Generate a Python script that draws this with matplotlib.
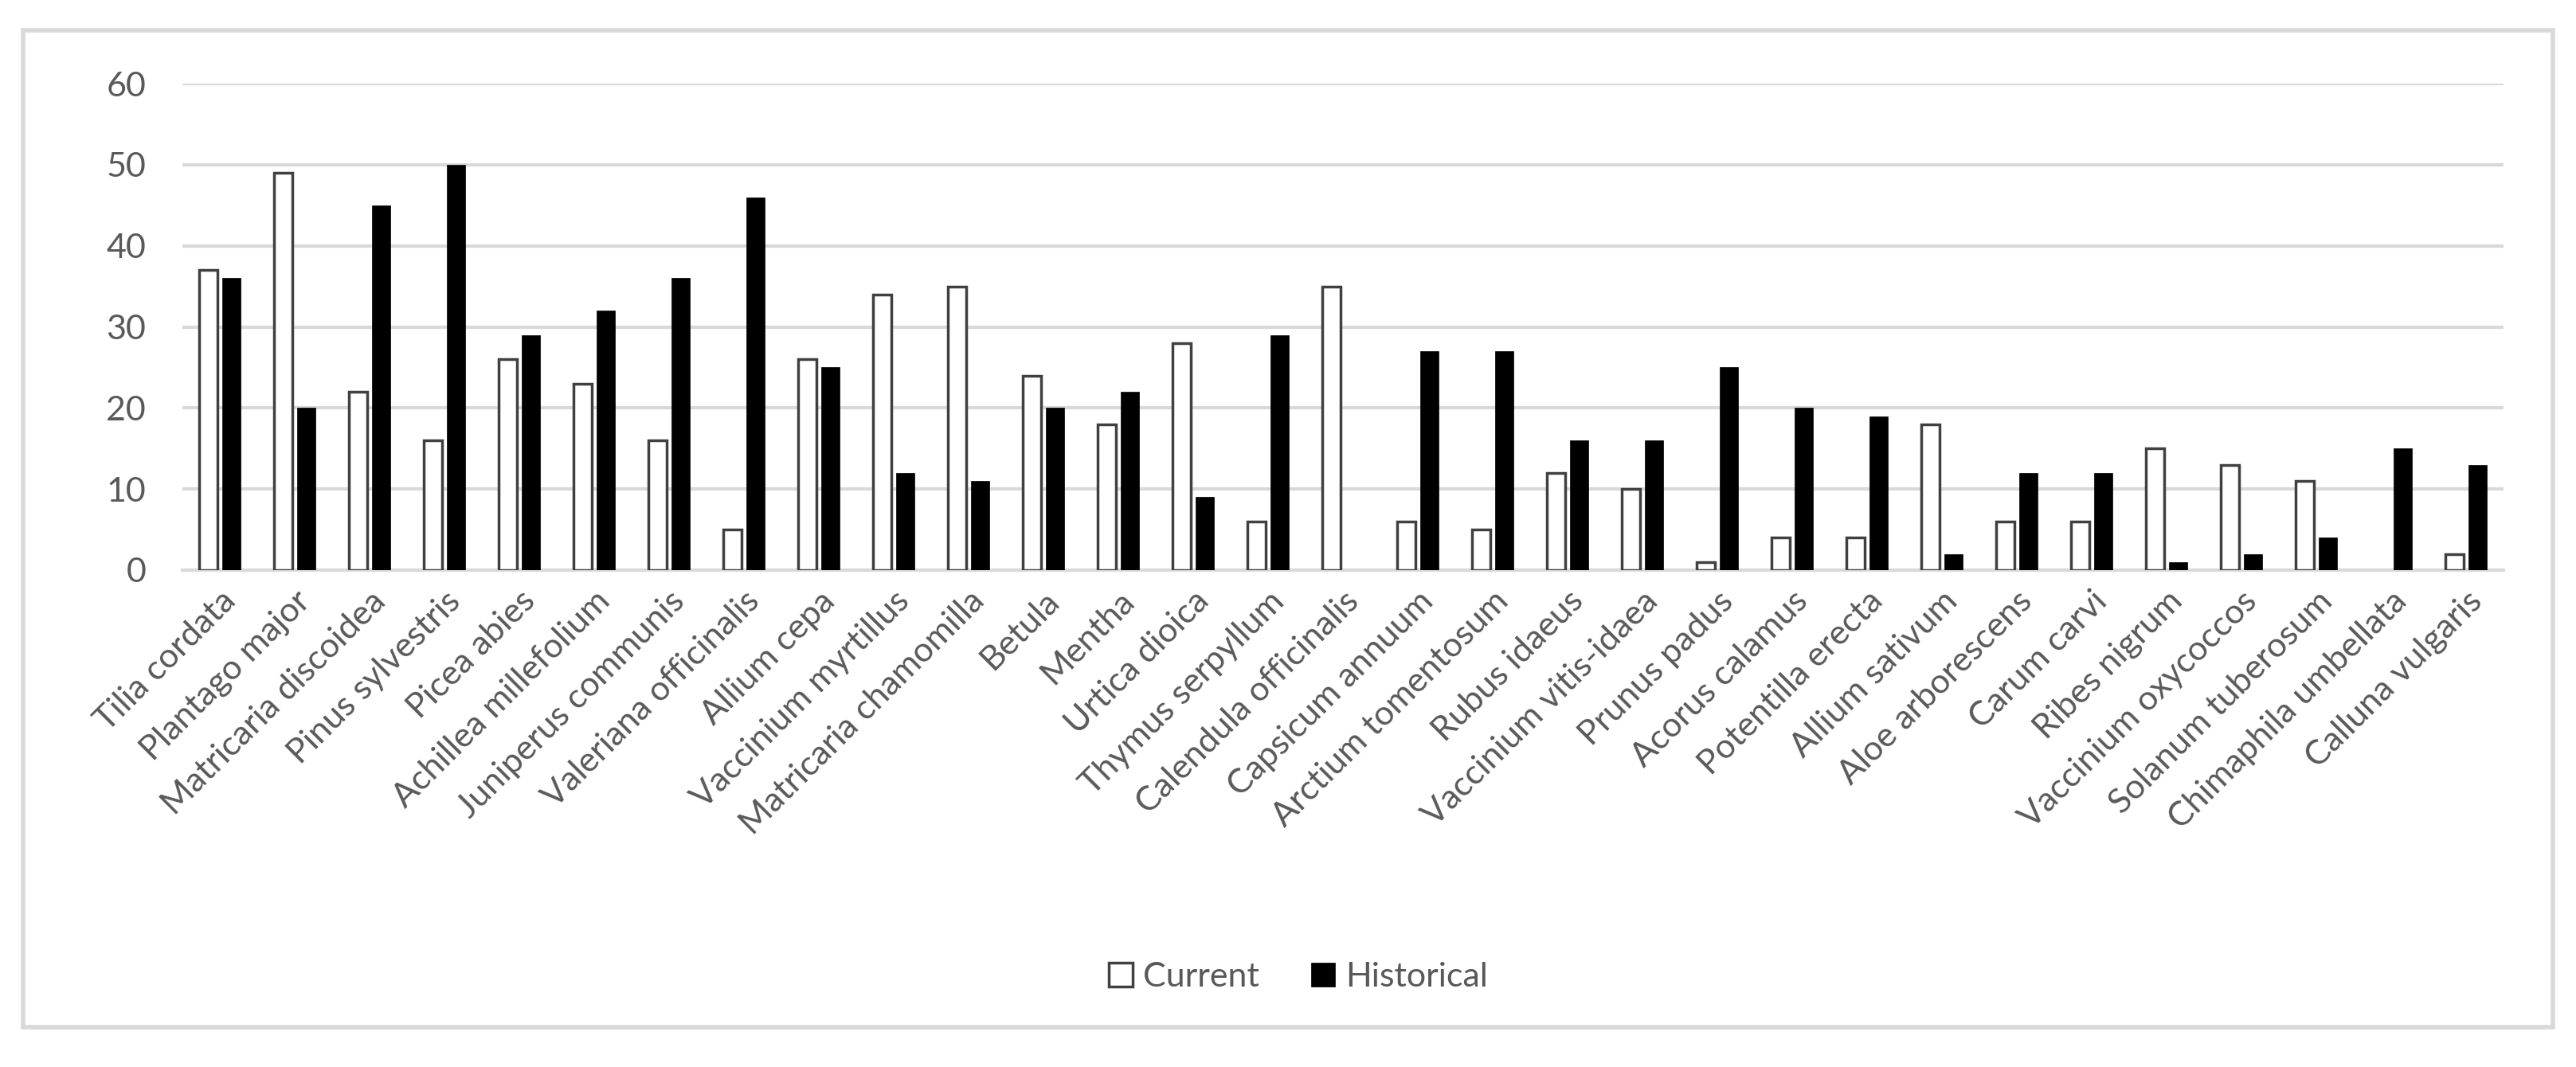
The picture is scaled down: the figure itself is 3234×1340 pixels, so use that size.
import matplotlib.pyplot as plt
import numpy as np
from matplotlib.patches import Rectangle

species = ["Tilia cordata", "Plantago major", "Matricaria discoidea", "Pinus sylvestris",
           "Picea abies", "Achillea millefolium", "Juniperus communis", "Valeriana officinalis",
           "Allium cepa", "Vaccinium myrtillus", "Matricaria chamomilla", "Betula", "Mentha",
           "Urtica dioica", "Thymus serpyllum", "Calendula officinalis", "Capsicum annuum",
           "Arctium tomentosum", "Rubus idaeus", "Vaccinium vitis-idaea", "Prunus padus",
           "Acorus calamus", "Potentilla erecta", "Allium sativum", "Aloe arborescens",
           "Carum carvi", "Ribes nigrum", "Vaccinium oxycoccos", "Solanum tuberosum",
           "Chimaphila umbellata", "Calluna vulgaris"]
current = [37, 49, 22, 16, 26, 23, 16, 5, 26, 34, 35, 24, 18, 28, 6, 35, 6, 5, 12, 10,
           1, 4, 4, 18, 6, 6, 15, 13, 11, 0, 2]
historical = [36, 20, 45, 50, 29, 32, 36, 46, 25, 12, 11, 20, 22, 9, 29, 0, 27, 27, 16, 16,
              25, 20, 19, 2, 12, 12, 1, 2, 4, 15, 13]
yticks = [0, 10, 20, 30, 40, 50, 60]

plt.rcParams['font.family'] = ['Lato', 'DejaVu Sans']
txt = '#595959'

fig = plt.figure(figsize=(32.34, 13.4), dpi=100)
ax = fig.add_axes([0.0708, 0.4657, 0.9011, 0.4559])

x = np.arange(len(species))
w = 0.24
# no outline for empty bars
lw_cur = [2.5 if v > 0 else 0 for v in current]
ax.bar(x - 0.155, current, w, color='white', edgecolor='#404040', linewidth=lw_cur, label='Current', zorder=3)
ax.bar(x + 0.155, historical, w, color='black', edgecolor='black', linewidth=0.5, label='Historical', zorder=3)

ax.set_xlim(-0.5, len(species) - 0.5)
ax.set_ylim(0, 60)
ax.set_yticks(yticks)
ax.grid(axis='y', color='#d9d9d9', linewidth=3, zorder=0)
for s in ['top', 'right', 'left']:
    ax.spines[s].set_visible(False)
ax.spines['bottom'].set_color('#d9d9d9')
ax.spines['bottom'].set_linewidth(3)
ax.tick_params(axis='both', length=0, labelsize=31, labelcolor=txt)
ax.tick_params(axis='y', pad=33)
ax.set_xticks(x)
ax.set_xticklabels(species, rotation=45, ha='right', rotation_mode='anchor')
ax.tick_params(axis='x', pad=14)

handles, labels = ax.get_legend_handles_labels()
handles[0] = Rectangle((0, 0), 1, 1, facecolor='white', edgecolor='#404040', linewidth=2.5)
fig.legend(handles, labels, loc='center', bbox_to_anchor=(0.504, 0.084), ncol=2, frameon=False,
           fontsize=31, labelcolor=txt, handlelength=0.7, handleheight=0.7,
           handletextpad=0.3, columnspacing=1.5)

fig.patches.append(Rectangle((0.009, 0.037), 0.982, 0.935, transform=fig.transFigure,
                             fill=False, edgecolor='#d9d9d9', linewidth=4))

fig.savefig('out.png', dpi=100, facecolor='white')
